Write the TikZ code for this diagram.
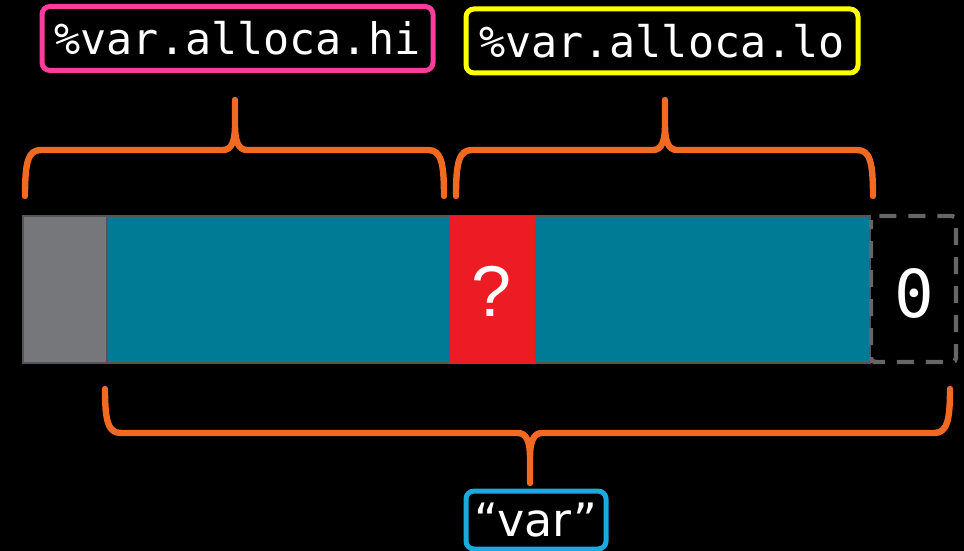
\documentclass[tikz,border=0pt]{standalone}
\usepackage{fontspec}
\setmonofont{DejaVu Sans Mono}
\newfontfamily\quotefont{DejaVu Sans}
\newfontfamily\markfont{Liberation Sans}

\definecolor{bracecol}{HTML}{F26A21}
\definecolor{hicol}{HTML}{FF3C9E}
\definecolor{locol}{HTML}{FFFF00}
\definecolor{strcol}{HTML}{1BA9E1}
\definecolor{bytecol}{HTML}{007B95}
\definecolor{undefcol}{HTML}{ED1C24}
\definecolor{padcol}{HTML}{75777A}
\definecolor{edgecol}{HTML}{555555}
\definecolor{nullcol}{HTML}{666666}

\tikzset{
 lbl/.style={rectangle, rounded corners=4pt, line width=2.5pt, inner sep=0pt, text=white},
 brc/.style={draw=bracecol, line width=3.2pt, line cap=round, line join=round},
}

% brace: x1, x2, xm, yend, yline, ytip, dir
\newcommand{\membrace}[7]{%
 \draw[brc] (#1,#4) .. controls (#1,{#5+12*#7}) and ({#1+3},#5) .. ({#1+16},#5)
   -- ({#3-12},#5) .. controls ({#3-3},#5) and (#3,{#5-10*#7}) .. (#3,{#5-24*#7}) -- (#3,#6)
   -- (#3,{#5-24*#7}) .. controls (#3,{#5-10*#7}) and ({#3+3},#5) .. ({#3+12},#5)
   -- ({#2-16},#5) .. controls ({#2-3},#5) and (#2,{#5+12*#7}) .. (#2,#4);
}

\begin{document}
\begin{tikzpicture}[x=0.5pt, y=-0.5pt]

 \fill[black] (0,0) rectangle (964,551);
 \useasboundingbox (0,0) rectangle (964,551);

 %%%  labels
 \node [lbl, draw=hicol, minimum width=195.5pt, minimum height=32pt] (hi) at (237.5,38.5)
   {\ttfamily\fontsize{21.7}{22}\selectfont \%var.alloca.hi};
 \node [lbl, draw=locol, minimum width=196pt, minimum height=32pt] (lo) at (662,41)
   {\ttfamily\fontsize{21.7}{22}\selectfont \%var.alloca.lo};
 \node [lbl, draw=strcol, minimum width=70pt, minimum height=29pt] (str) at (536,520)
   {\quotefont\fontsize{23}{24}\selectfont “var”};

 %%%  memory cells
 \fill[bytecol] (107,216) rectangle (870,363);
 \fill[padcol] (23,216) rectangle (107,363);
 \draw[edgecol, line width=1pt] (23,216) rectangle (870,363) (107,216) -- (107,363);
 \fill[undefcol] (449,216) rectangle (535,364);
 \node [text=white] (undef) at (492,291) {\markfont\fontsize{36}{36}\selectfont ?};

 % terminating null
 \draw[nullcol, line width=2.2pt, rounded corners=2pt, dash pattern=on 8.5pt off 6pt,
   dash phase=4pt] (871,216) rectangle (956,362);
 \node [text=white] (null) at (914,293) {\ttfamily\fontsize{33}{33}\selectfont 0};

 %%%  braces
 \membrace{25}{444}{235}{196}{150}{100}{1}
 \membrace{456}{873}{665}{196}{150}{100}{1}
 \membrace{105}{950}{530}{389}{433}{483}{-1}

\end{tikzpicture}
\end{document}
